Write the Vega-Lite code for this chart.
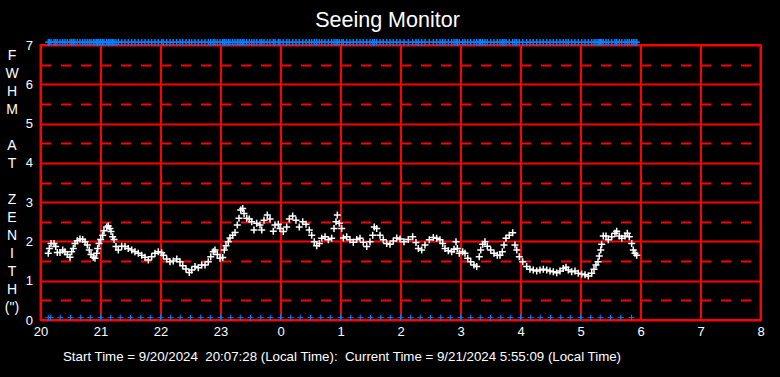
{
  "$schema": "https://vega.github.io/schema/vega-lite/v6.json",
  "width": 720,
  "height": 275,
  "autosize": {"type": "none"},
  "padding": {"left": 40.5, "top": 45, "right": 19.5, "bottom": 57},
  "background": "black",
  "title": {"text": "Seeing Monitor", "color": "white", "fontSize": 21.5, "font": "Liberation Sans", "fontWeight": "normal", "anchor": "middle", "dx": -13, "offset": 5},
  "config": {
    "view": {"stroke": "#FF0000", "strokeWidth": 2},
    "axis": {
      "labelColor": "white", "labelFont": "Liberation Sans", "labelFontSize": 13,
      "ticks": false, "domain": false, "gridColor": "#FF0000", "gridWidth": 2, "gridOpacity": 1,
      "labelFlush": false, "labelOverlap": false, "labelBound": false,
      "titleColor": "white", "titleFont": "Liberation Sans", "titleFontWeight": "normal"
    }
  },
  "resolve": {"axis": {"x": "independent", "y": "independent"}},
  "datasets": {
    "seeing": [
      {"t":0.130,"v":1.70},{"t":0.147,"v":1.82},{"t":0.175,"v":1.95},{"t":0.225,"v":1.95},{"t":0.253,"v":1.87},{"t":0.280,"v":1.72},{"t":0.325,"v":1.72},{"t":0.370,"v":1.78},{"t":0.408,"v":1.74},{"t":0.447,"v":1.67},
      {"t":0.492,"v":1.60},{"t":0.520,"v":1.74},{"t":0.547,"v":1.82},{"t":0.575,"v":1.95},{"t":0.613,"v":2.02},{"t":0.658,"v":2.06},{"t":0.703,"v":2.05},{"t":0.742,"v":1.99},{"t":0.780,"v":1.91},{"t":0.813,"v":1.78},
      {"t":0.842,"v":1.67},{"t":0.880,"v":1.60},{"t":0.908,"v":1.57},{"t":0.937,"v":1.70},{"t":0.953,"v":1.82},{"t":0.975,"v":1.95},{"t":1.003,"v":2.05},{"t":1.037,"v":2.16},{"t":1.058,"v":2.27},{"t":1.103,"v":2.37},
      {"t":1.130,"v":2.39},{"t":1.158,"v":2.33},{"t":1.175,"v":2.25},{"t":1.203,"v":2.12},{"t":1.225,"v":2.05},{"t":1.258,"v":1.87},{"t":1.297,"v":1.78},{"t":1.353,"v":1.88},{"t":1.408,"v":1.87},{"t":1.463,"v":1.82},
      {"t":1.520,"v":1.78},{"t":1.575,"v":1.74},{"t":1.630,"v":1.70},{"t":1.687,"v":1.65},{"t":1.742,"v":1.60},{"t":1.797,"v":1.53},{"t":1.853,"v":1.61},{"t":1.908,"v":1.70},{"t":1.963,"v":1.74},{"t":2.020,"v":1.71},
      {"t":2.047,"v":1.65},{"t":2.103,"v":1.55},{"t":2.158,"v":1.48},{"t":2.213,"v":1.50},{"t":2.270,"v":1.55},{"t":2.325,"v":1.48},{"t":2.370,"v":1.38},{"t":2.425,"v":1.30},{"t":2.480,"v":1.21},{"t":2.520,"v":1.27},
      {"t":2.575,"v":1.36},{"t":2.630,"v":1.33},{"t":2.687,"v":1.40},{"t":2.742,"v":1.40},{"t":2.797,"v":1.48},{"t":2.837,"v":1.61},{"t":2.880,"v":1.74},{"t":2.908,"v":1.78},{"t":2.947,"v":1.67},{"t":2.992,"v":1.57},
      {"t":3.037,"v":1.59},{"t":3.063,"v":1.78},{"t":3.092,"v":1.89},{"t":3.130,"v":1.99},{"t":3.158,"v":2.09},{"t":3.203,"v":2.16},{"t":3.242,"v":2.23},{"t":3.280,"v":2.42},{"t":3.308,"v":2.59},{"t":3.337,"v":2.80},
      {"t":3.370,"v":2.84},{"t":3.392,"v":2.71},{"t":3.437,"v":2.59},{"t":3.480,"v":2.57},{"t":3.520,"v":2.50},{"t":3.558,"v":2.29},{"t":3.603,"v":2.46},{"t":3.658,"v":2.42},{"t":3.687,"v":2.29},{"t":3.725,"v":2.54},
      {"t":3.780,"v":2.67},{"t":3.825,"v":2.57},{"t":3.880,"v":2.26},{"t":3.908,"v":2.42},{"t":3.963,"v":2.44},{"t":3.992,"v":2.33},{"t":4.047,"v":2.25},{"t":4.103,"v":2.37},{"t":4.147,"v":2.57},{"t":4.203,"v":2.65},
      {"t":4.258,"v":2.54},{"t":4.313,"v":2.37},{"t":4.370,"v":2.50},{"t":4.425,"v":2.44},{"t":4.480,"v":2.29},{"t":4.520,"v":2.16},{"t":4.563,"v":1.99},{"t":4.603,"v":1.89},{"t":4.647,"v":1.95},{"t":4.687,"v":2.08},
      {"t":4.742,"v":2.12},{"t":4.797,"v":2.04},{"t":4.853,"v":2.08},{"t":4.892,"v":2.33},{"t":4.925,"v":2.50},{"t":4.947,"v":2.67},{"t":4.980,"v":2.46},{"t":5.020,"v":2.33},{"t":5.047,"v":2.09},{"t":5.103,"v":2.12},
      {"t":5.158,"v":2.04},{"t":5.213,"v":1.98},{"t":5.270,"v":2.05},{"t":5.325,"v":2.08},{"t":5.380,"v":1.98},{"t":5.437,"v":1.87},{"t":5.492,"v":1.99},{"t":5.537,"v":2.16},{"t":5.563,"v":2.37},{"t":5.603,"v":2.33},
      {"t":5.658,"v":2.16},{"t":5.713,"v":2.04},{"t":5.770,"v":1.95},{"t":5.825,"v":1.93},{"t":5.880,"v":2.01},{"t":5.937,"v":2.09},{"t":5.992,"v":2.06},{"t":6.058,"v":1.99},{"t":6.130,"v":2.05},{"t":6.203,"v":2.12},
      {"t":6.258,"v":1.97},{"t":6.297,"v":1.82},{"t":6.353,"v":1.78},{"t":6.408,"v":1.91},{"t":6.480,"v":2.04},{"t":6.547,"v":2.10},{"t":6.603,"v":2.08},{"t":6.658,"v":2.04},{"t":6.703,"v":1.95},{"t":6.742,"v":1.82},
      {"t":6.797,"v":1.76},{"t":6.853,"v":1.74},{"t":6.892,"v":1.80},{"t":6.925,"v":1.99},{"t":6.947,"v":1.82},{"t":6.980,"v":1.70},{"t":7.037,"v":1.74},{"t":7.075,"v":1.70},{"t":7.120,"v":1.57},{"t":7.170,"v":1.48},
      {"t":7.225,"v":1.40},{"t":7.270,"v":1.36},{"t":7.313,"v":1.61},{"t":7.337,"v":1.78},{"t":7.370,"v":1.93},{"t":7.408,"v":1.99},{"t":7.447,"v":1.88},{"t":7.503,"v":1.78},{"t":7.558,"v":1.70},{"t":7.613,"v":1.65},
      {"t":7.658,"v":1.65},{"t":7.697,"v":1.74},{"t":7.725,"v":1.91},{"t":7.758,"v":2.08},{"t":7.813,"v":2.16},{"t":7.870,"v":2.22},{"t":7.908,"v":1.91},{"t":7.937,"v":1.78},{"t":7.980,"v":1.61},{"t":8.037,"v":1.48},
      {"t":8.103,"v":1.36},{"t":8.158,"v":1.29},{"t":8.213,"v":1.27},{"t":8.270,"v":1.25},{"t":8.325,"v":1.27},{"t":8.380,"v":1.29},{"t":8.437,"v":1.27},{"t":8.492,"v":1.25},{"t":8.547,"v":1.23},{"t":8.603,"v":1.20},
      {"t":8.658,"v":1.25},{"t":8.713,"v":1.31},{"t":8.758,"v":1.34},{"t":8.797,"v":1.27},{"t":8.853,"v":1.23},{"t":8.908,"v":1.25},{"t":8.963,"v":1.19},{"t":9.020,"v":1.17},{"t":9.075,"v":1.15},{"t":9.130,"v":1.12},
      {"t":9.187,"v":1.19},{"t":9.225,"v":1.29},{"t":9.258,"v":1.40},{"t":9.292,"v":1.48},{"t":9.313,"v":1.63},{"t":9.337,"v":1.78},{"t":9.353,"v":1.93},{"t":9.380,"v":2.14},{"t":9.425,"v":2.14},{"t":9.463,"v":2.04},
      {"t":9.520,"v":2.12},{"t":9.575,"v":2.21},{"t":9.603,"v":2.26},{"t":9.647,"v":2.14},{"t":9.687,"v":2.08},{"t":9.742,"v":2.14},{"t":9.780,"v":2.21},{"t":9.813,"v":2.12},{"t":9.853,"v":1.95},{"t":9.880,"v":1.78},
      {"t":9.908,"v":1.70},{"t":9.937,"v":1.65}
    ],
    "flags": [
      {"t":0.13},{"t":0.17},{"t":0.33},{"t":0.5},{"t":0.67},{"t":0.83},{"t":1.0},{"t":1.17},{"t":1.33},{"t":1.5},{"t":1.67},{"t":1.83},
      {"t":2.0},{"t":2.17},{"t":2.33},{"t":2.5},{"t":2.67},{"t":2.83},{"t":3.0},{"t":3.17},{"t":3.33},{"t":3.5},{"t":3.67},{"t":3.83},
      {"t":4.0},{"t":4.17},{"t":4.33},{"t":4.5},{"t":4.67},{"t":4.83},{"t":5.0},{"t":5.17},{"t":5.33},{"t":5.5},{"t":5.67},{"t":5.83},
      {"t":6.0},{"t":6.17},{"t":6.33},{"t":6.5},{"t":6.67},{"t":6.83},{"t":7.0},{"t":7.17},{"t":7.33},{"t":7.5},{"t":7.67},{"t":7.83},
      {"t":8.0},{"t":8.17},{"t":8.33},{"t":8.5},{"t":8.67},{"t":8.83},{"t":9.0},{"t":9.17},{"t":9.33},{"t":9.5},{"t":9.67},{"t":9.85}
    ]
  },
  "layer": [
    {
      "data": {"name": "seeing"},
      "mark": {"type": "point", "shape": "M-1,0H1M0,-1V1", "filled": false, "stroke": "white", "strokeWidth": 1.5, "size": 49, "opacity": 1, "clip": false},
      "encoding": {
        "x": {"field": "t", "type": "quantitative", "scale": {"domain": [0, 12], "nice": false, "zero": false},
          "axis": {"values": [0,1,2,3,4,5,6,7,8,9,10,11,12], "labelExpr": "'' + ((datum.value + 20) % 24)", "labelPadding": 5, "grid": true,
            "title": "Start Time = 9/20/2024\u00a0 20:07:28 (Local Time):\u00a0 Current Time = 9/21/2024 5:55:09 (Local Time)",
            "titleFontSize": 13.3, "titleAlign": "left", "titleAnchor": "start", "titleBaseline": "top", "titleX": 22, "titleY": 29}},
        "y": {"field": "v", "type": "quantitative", "scale": {"domain": [0, 7], "nice": false, "zero": false},
          "axis": {"values": [0,0.5,1,1.5,2,2.5,3,3.5,4,4.5,5,5.5,6,6.5,7], "labelExpr": "datum.value % 1 === 0 ? '' + datum.value : ''", "labelPadding": 8, "grid": true,
            "gridDash": {"condition": {"test": "datum.value % 1 !== 0", "value": [10, 10]}, "value": []},
            "title": ["F","W","H","M","\u2800","A","T","\u2800","Z","E","N","I","T","H","(\")"],
            "titleAngle": 0, "titleFontSize": 14, "titleLineHeight": 18, "titleAlign": "center", "titleBaseline": "top", "titleX": -29, "titleY": 3}}
      }
    },
    {
      "data": {"name": "seeing"},
      "mark": {"type": "point", "shape": "M-1,0H1M0,-1V1", "filled": false, "stroke": "#0080FF", "strokeWidth": 1.5, "size": 42, "opacity": 1, "clip": false},
      "encoding": {
        "x": {"field": "t", "type": "quantitative", "axis": null},
        "y": {"datum": 7.07, "type": "quantitative", "axis": null}
      }
    },
    {
      "data": {"name": "flags"},
      "mark": {"type": "point", "shape": "M-1,0H1M0,-1V1", "filled": false, "stroke": "#0080FF", "strokeWidth": 1, "size": 36, "opacity": 1, "clip": false},
      "encoding": {
        "x": {"field": "t", "type": "quantitative", "axis": null},
        "y": {"datum": 0.06, "type": "quantitative", "axis": null}
      }
    }
  ]
}
